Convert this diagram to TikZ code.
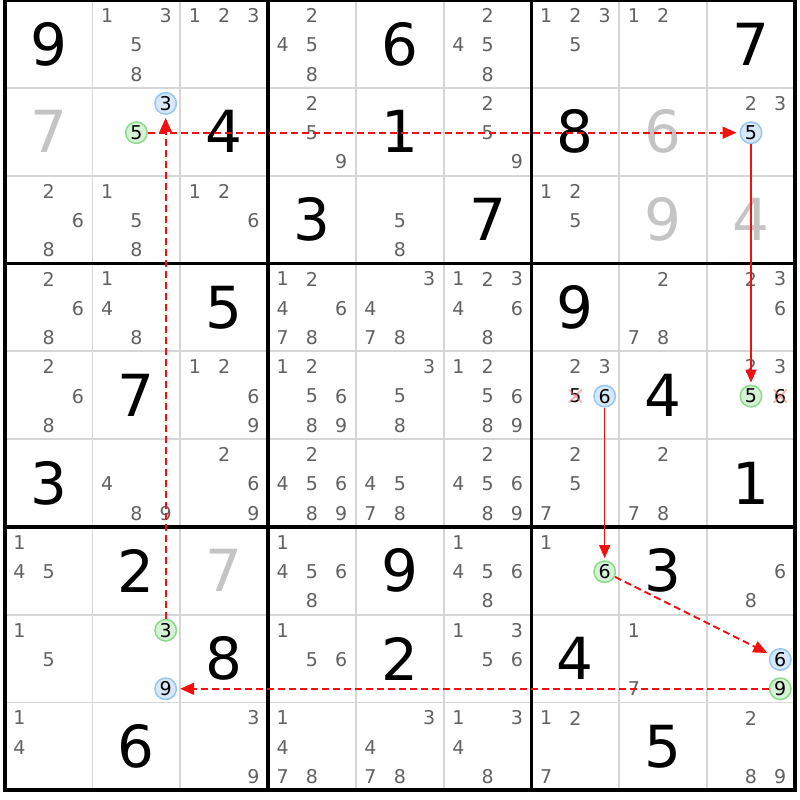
\documentclass[tikz,border=0pt]{standalone}
\usepackage{fontspec}
\setmainfont{DejaVu Sans}
\usetikzlibrary{arrows.meta}
\definecolor{candgray}{HTML}{626262}
\definecolor{givgray}{HTML}{C4C4C4}
\definecolor{thingrid}{HTML}{D6D6D6}
\definecolor{grfill}{HTML}{D6F2D6}
\definecolor{grline}{HTML}{8ADA8A}
\definecolor{blfill}{HTML}{D6E8FA}
\definecolor{blline}{HTML}{98C6F2}
\definecolor{xred}{HTML}{F07878}
\definecolor{arrred}{HTML}{F01010}
\newcommand\candnode[4][]{%
  \pgfmathsetmacro\px{4.7+#3*87.8+(mod(#4-1,3)+0.5)*29.267}%
  \pgfmathsetmacro\py{#2*87.8+(floor((#4-1)/3)+0.5)*29.267+1}%
  \node[cand,#1] (n-#2-#3-#4) at (\px,\py) {#4};%
}
\newcommand\givennode[4][]{%
  \pgfmathsetmacro\px{4.7+(#3+0.5)*87.8}%
  \pgfmathsetmacro\py{(#2+0.5)*87.8}%
  \node[given,#1] (g-#2-#3) at (\px,\py) {#4};%
}
\begin{document}
\begin{tikzpicture}[x=1pt,y=-1pt,
  cand/.style={inner sep=0pt,text=candgray,font=\fontsize{19}{19}\selectfont},
  given/.style={inner sep=0pt,text=black,font=\fontsize{58}{58}\selectfont},
  givengray/.style={text=givgray},
  hlg/.style={circle,inner sep=0pt,minimum size=21.5pt,draw=grline,fill=grfill,line width=1.5pt,text=black,font=\fontsize{19}{19}\selectfont},
  hlb/.style={circle,inner sep=0pt,minimum size=21.5pt,draw=blline,fill=blfill,line width=1.5pt,text=black,font=\fontsize{19}{19}\selectfont},
  xcand/.style={text=black},
  xmark/.style={draw=xred,line width=1.8pt,draw opacity=0.55},
  dasharrow/.style={draw=arrred,line width=1.8pt,dash pattern=on 7pt off 4pt,-{Triangle[length=14pt,width=12pt]},shorten >=3pt},
  solidarrow/.style={draw=arrred,line width=1.2pt,-{Triangle[length=13pt,width=11pt]},shorten >=2pt},
  thinline/.style={draw=thingrid,line width=1.8pt},
  thickline/.style={draw=black,line width=3.6pt}]
\useasboundingbox (0,0) rectangle (800,800);
\fill[white] (0,0) rectangle (800,800);
% thin grid
\foreach \i in {1,2,4,5,7,8}{
  \draw[thinline] ({4.7+\i*87.8},0) -- ({4.7+\i*87.8},790.2);
  \draw[thinline] (4.7,{\i*87.8}) -- (794.9,{\i*87.8});
}
% thick grid
\foreach \i in {0,3,6,9}{
  \draw[thickline] ({4.7+\i*87.8},-1.8) -- ({4.7+\i*87.8},792);
  \draw[thickline] (2.9,{\i*87.8}) -- (796.7,{\i*87.8});
}
% givens
\foreach \r/\c/\v in {0/0/9,0/4/6,0/8/7,1/2/4,1/4/1,1/6/8,2/3/3,2/5/7,3/2/5,3/6/9,4/1/7,4/7/4,5/0/3,5/8/1,6/1/2,6/4/9,6/7/3,7/2/8,7/4/2,7/6/4,8/1/6,8/7/5}{
  \givennode{\r}{\c}{\v}
}
\foreach \r/\c/\v in {1/0/7,1/7/6,2/7/9,2/8/4,6/2/7}{
  \givennode[givengray]{\r}{\c}{\v}
}
% candidates
\foreach \r/\c/\L in {0/1/{1,3,5,8},0/2/{1,2,3},0/3/{2,4,5,8},0/5/{2,4,5,8},0/6/{1,2,3,5},0/7/{1,2},
  1/3/{2,5,9},1/5/{2,5,9},1/8/{2,3},
  2/0/{2,6,8},2/1/{1,5,8},2/2/{1,2,6},2/4/{5,8},2/6/{1,2,5},
  3/0/{2,6,8},3/1/{1,4,8},3/3/{1,2,4,6,7,8},3/4/{3,4,7,8},3/5/{1,2,3,4,6,8},3/7/{2,7,8},3/8/{2,3,6},
  4/0/{2,6,8},4/2/{1,2,6,9},4/3/{1,2,5,6,8,9},4/4/{3,5,8},4/5/{1,2,5,6,8,9},4/6/{2,3},4/8/{2,3},
  5/1/{4,8,9},5/2/{2,6,9},5/3/{2,4,5,6,8,9},5/4/{4,5,7,8},5/5/{2,4,5,6,8,9},5/6/{2,5,7},5/7/{2,7,8},
  6/0/{1,4,5},6/3/{1,4,5,6,8},6/5/{1,4,5,6,8},6/6/{1},6/8/{6,8},
  7/0/{1,5},7/3/{1,5,6},7/5/{1,3,5,6},7/7/{1,7},
  8/0/{1,4},8/2/{3,9},8/3/{1,4,7,8},8/4/{3,4,7,8},8/5/{1,3,4,8},8/6/{1,2,7},8/8/{2,8,9}}{
  \foreach \d in \L {\candnode{\r}{\c}{\d}}
}
% crossed candidates
\candnode[xcand]{4}{6}{5}
\candnode[xcand]{4}{8}{6}
\foreach \nm in {n-4-6-5,n-4-8-6}{
  \draw[xmark] ([shift={(-6.5,-6.5)}]\nm.center) -- ([shift={(6.5,6.5)}]\nm.center);
  \draw[xmark] ([shift={(-6.5,6.5)}]\nm.center) -- ([shift={(6.5,-6.5)}]\nm.center);
}
% highlighted candidates
\candnode[hlb]{1}{1}{3}
\candnode[hlg]{1}{1}{5}
\candnode[hlb]{1}{8}{5}
\candnode[hlb]{4}{6}{6}
\candnode[hlg]{4}{8}{5}
\candnode[hlg]{6}{6}{6}
\candnode[hlb]{7}{8}{6}
\candnode[hlg]{7}{8}{9}
\candnode[hlg]{7}{1}{3}
\candnode[hlb]{7}{1}{9}
% connectors
\draw[dasharrow] (n-1-1-5) -- (n-1-8-5);
\draw[dasharrow] (n-7-1-3) -- (n-1-1-3);
\draw[solidarrow] (n-1-8-5) -- (n-4-8-5);
\draw[solidarrow] (n-4-6-6) -- (n-6-6-6);
\draw[dasharrow] (n-6-6-6) -- (n-7-8-6);
\draw[dasharrow] (n-7-8-9) -- (n-7-1-9);
\end{tikzpicture}
\end{document}
